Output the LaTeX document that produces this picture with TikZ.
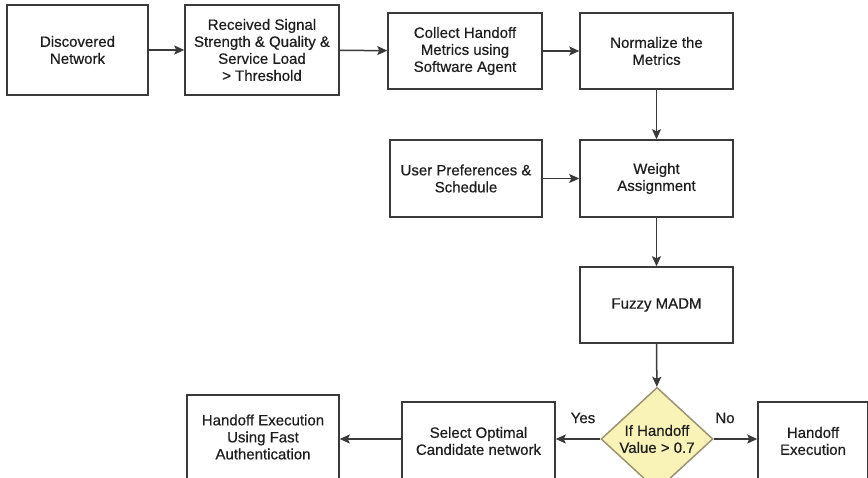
\documentclass[tikz,border=0pt]{standalone}
\usepackage{fontspec}
\setmainfont{Liberation Sans}
\newfontfamily\chartfont[FakeBold=0.5]{Liberation Sans}
\usepackage{xcolor}
\definecolor{edge}{HTML}{3A3A3A}
\definecolor{ink}{HTML}{1E1E1E}
\definecolor{decfill}{HTML}{FAF3B8}
\definecolor{decedge}{HTML}{9A9470}
\usepackage{tikz}
\usetikzlibrary{arrows.meta, shapes.geometric}

\begin{document}
\begin{tikzpicture}[
  x=1pt, y=-1pt,
  font=\chartfont\fontsize{15}{17}\selectfont, text=ink,
  box/.style={
    draw=edge, line width=1.5pt, fill=white, align=center,
    inner sep=2pt
  },
  decision/.style={
    diamond, draw=decedge, line width=1.5pt, fill=decfill, align=center,
    inner sep=0pt, minimum width=112pt, minimum height=86pt
  },
  flow/.style={-{Stealth[length=10pt, width=9pt, inset=2pt]}, edge, line width=1.5pt},
  tag/.style={font=\chartfont\fontsize{15}{17}\selectfont}
]
  \clip (0,0) rectangle (868,478);
  \fill[white] (0,0) rectangle (868,478);

  % top row
  \node[box, minimum width=141pt, minimum height=90pt] (disc) at (77.5,50)
    {Discovered\\Network};
  \node[box, minimum width=154pt, minimum height=90pt] (rss) at (262,50)
    {Received Signal\\Strength \& Quality \&\\Service Load\\> Threshold};
  \node[box, minimum width=154pt, minimum height=76pt] (collect) at (465,51)
    {Collect Handoff\\Metrics using\\Software Agent};
  \node[box, minimum width=153pt, minimum height=76pt] (norm) at (656.5,51)
    {Normalize the\\Metrics};

  % middle
  \node[box, minimum width=152pt, minimum height=77pt] (pref) at (466,178.5)
    {User Preferences \&\\Schedule};
  \node[box, minimum width=153pt, minimum height=77pt] (weight) at (656.5,178.5)
    {Weight\\Assignment};
  \node[box, minimum width=153pt, minimum height=76pt] (fuzzy) at (656.5,305)
    {Fuzzy MADM};

  % bottom row
  \node[decision] (dec) at (657,439) {If Handoff\\Value > 0.7};
  \node[box, minimum width=153pt, minimum height=78pt] (select) at (478.5,441)
    {Select Optimal\\Candidate network};
  \node[box, minimum width=110pt, minimum height=78pt] (exec) at (813,441)
    {Handoff\\Execution};
  \node[box, minimum width=152pt, minimum height=84pt] (fast) at (263,437)
    {Handoff Execution\\Using Fast\\Authentication};

  \draw[flow] (disc) -- (rss);
  \draw[flow] (rss) -- (collect);
  \draw[flow] (collect) -- (norm);
  \draw[flow] (norm) -- (weight);
  \draw[flow] (pref) -- (weight);
  \draw[flow] (weight) -- (fuzzy);
  \draw[flow] (fuzzy) -- (dec);
  \draw[flow] (dec.west) -- (select.east |- dec.west);
  \draw[flow] (dec.east) -- (exec.west |- dec.east);
  \draw[flow] (select.west |- dec.west) -- (fast.east |- dec.west);

  \node[tag] (yes) at (583,418) {Yes};
  \node[tag] (no) at (725,418) {No};
\end{tikzpicture}
\end{document}
